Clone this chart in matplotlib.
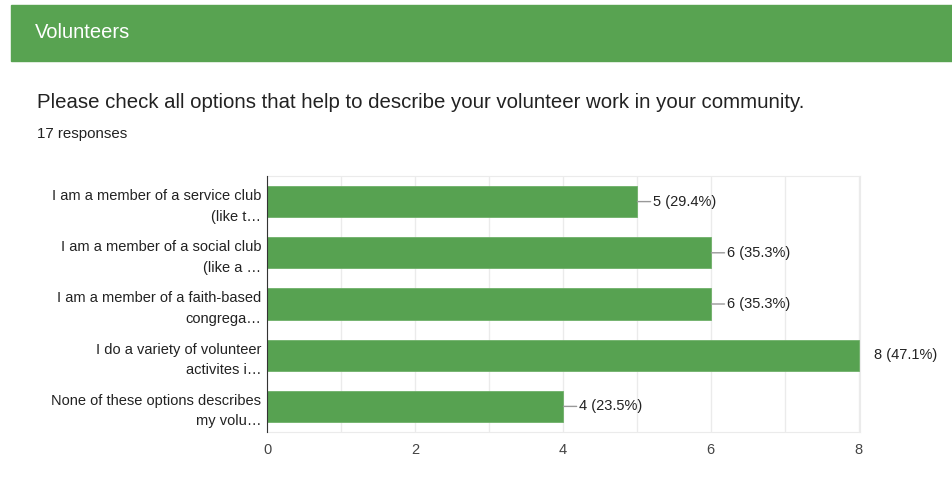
import matplotlib.pyplot as plt
from matplotlib.patches import Rectangle

plt.rcParams["font.family"] = ["Liberation Sans", "DejaVu Sans"]

categories = [
    "I am a member of a service club\n(like t\u2026",
    "I am a member of a social club\n(like a \u2026",
    "I am a member of a faith-based\ncongrega\u2026",
    "I do a variety of volunteer\nactivites i\u2026",
    "None of these options describes\nmy volu\u2026",
]
counts = [5, 6, 6, 8, 4]
total = 17
xticks = [0, 2, 4, 6, 8]

green = "#57a251"
text_col = "#222222"

fig = plt.figure(figsize=(9.53, 5.01), dpi=100)

# header band
fig.patches.append(Rectangle((11 / 953, 1 - 61 / 501), 1, 56 / 501,
                             transform=fig.transFigure, color="#58a351", zorder=0))
fig.text(35 / 953, 1 - 32 / 501, "Volunteers", color="white", fontsize=14.5,
         va="center", ha="left")
fig.text(37 / 953, 1 - 102 / 501,
         "Please check all options that help to describe your volunteer work in your community.",
         color=text_col, fontsize=14.7, va="center", ha="left")
fig.text(37 / 953, 1 - 134 / 501, "17 responses", color=text_col, fontsize=10.8,
         va="center", ha="left")

ax = fig.add_axes([267 / 953, 69 / 501, 593 / 953, 256 / 501])
y = list(range(len(counts)))
ax.barh(y, counts, height=0.61, color=green, edgecolor="#6fb069", linewidth=0.6, zorder=3)
ax.set_ylim(len(counts) - 0.5, -0.5)
ax.set_xlim(0, 8.02)

ax.set_xticks(xticks)
ax.set_xticks(range(0, 9), minor=True)
ax.grid(True, axis="x", which="both", color="#ebebeb", linewidth=1, zorder=0)
ax.tick_params(axis="x", which="both", length=0, labelsize=10.5, labelcolor="#444444", pad=8)
ax.set_yticks(y)
ax.set_yticklabels(categories, fontsize=10.5, color=text_col, linespacing=1.6)
ax.tick_params(axis="y", length=0, pad=4)
for lbl in ax.get_yticklabels():
    lbl.set_horizontalalignment("right")

for side in ["top", "right", "bottom"]:
    ax.spines[side].set_color("#ebebeb")
ax.spines["left"].set_color("#333333")
ax.spines["left"].set_zorder(4)

# value labels with short leader lines
for yi, c in zip(y, counts):
    label = f"{c} ({c / total * 100:.1f}%)"
    ax.annotate(label, (c, yi), xytext=(11.5, 0), textcoords="offset points",
                va="center", ha="left", fontsize=10.5, color=text_col,
                annotation_clip=False)
    if c != max(counts):
        ax.annotate("", (c, yi), xytext=(10, 0), textcoords="offset points",
                    arrowprops=dict(arrowstyle="-", color="#999999", lw=1,
                                    shrinkA=0, shrinkB=0.5))

fig.savefig("out.png", dpi=100)
plt.close()
